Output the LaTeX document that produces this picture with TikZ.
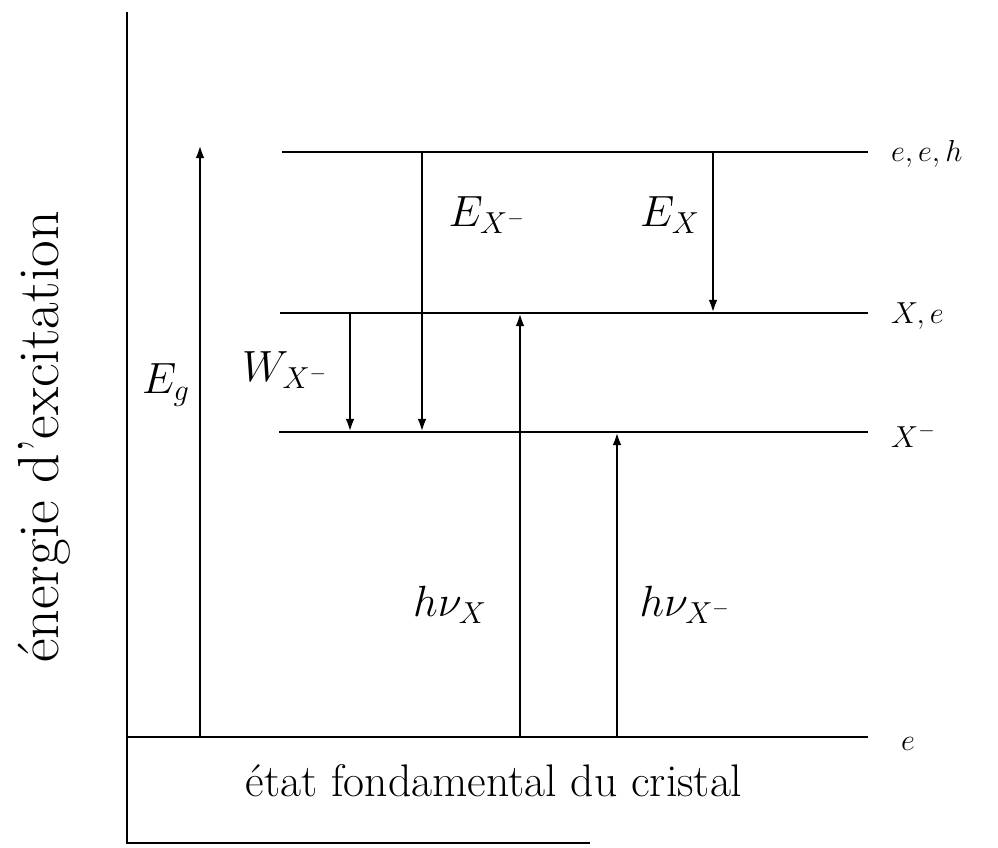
\documentclass[tikz,border=0pt]{standalone}
\usetikzlibrary{arrows.meta}
\begin{document}
\begin{tikzpicture}[x=0.02cm,y=-0.02cm,
  lvl/.style={line width=1.6pt},
  trans/.style={line width=1.6pt,-{Latex[length=7.5pt,width=5pt]}},
  big/.style={font=\fontsize{25}{30}\selectfont},
  small/.style={font=\fontsize{17}{20}\selectfont, anchor=west}]
\useasboundingbox (0,0) rectangle (998,848);
% axes
\coordinate (ytop) at (127,12);
\coordinate (orig) at (127,843);
\coordinate (xend) at (590,843);
\draw[lvl] (ytop) -- (orig) -- (xend);
% levels
\coordinate (L3a) at (282,152); \coordinate (L3b) at (868,152);
\coordinate (L2a) at (280,313); \coordinate (L2b) at (868,313);
\coordinate (L1a) at (279,432); \coordinate (L1b) at (868,432);
\coordinate (L0a) at (127,737); \coordinate (L0b) at (868,737);
\draw[lvl] (L3a) -- (L3b);
\draw[lvl] (L2a) -- (L2b);
\draw[lvl] (L1a) -- (L1b);
\draw[lvl] (L0a) -- (L0b);
\node[small] (t3) at (885,154) {$e,e,h$};
\node[small] (t2) at (885,316) {$X,e$};
\node[small] (t1) at (885,436) {$X^-$};
\node[small] (t0) at (895,744) {$e$};
% transitions
\coordinate (g0) at (200,737); \coordinate (g1) at (200,145);
\draw[trans] (g0) -- (g1);
\node[big] (Eg) at (166,385) {$E_g$};
\coordinate (a0) at (422,152); \coordinate (a1) at (422,432);
\draw[trans] (a0) -- (a1);
\node[big] (EXm) at (487,215) {$E_{X^-}$};
\coordinate (b0) at (713,152); \coordinate (b1) at (713,313);
\draw[trans] (b0) -- (b1);
\node[big] (EX) at (670,215) {$E_X$};
\coordinate (c0) at (350,313); \coordinate (c1) at (350,432);
\draw[trans] (c0) -- (c1);
\node[big] (WXm) at (285,370) {$W_{X^-}$};
\coordinate (d0) at (520,737); \coordinate (d1) at (520,313);
\draw[trans] (d0) -- (d1);
\node[big] (hX) at (450,605) {$h\nu_X$};
\coordinate (f0) at (617,737); \coordinate (f1) at (617,432);
\draw[trans] (f0) -- (f1);
\node[big] (hXm) at (685,605) {$h\nu_{X^-}$};
% texts
\node[font=\fontsize{26}{31}\selectfont] (gs) at (494,781) {état fondamental du cristal};
\node[font=\fontsize{33}{40}\selectfont, rotate=90] (yl) at (44,437) {énergie d'excitation};
\end{tikzpicture}
\end{document}
